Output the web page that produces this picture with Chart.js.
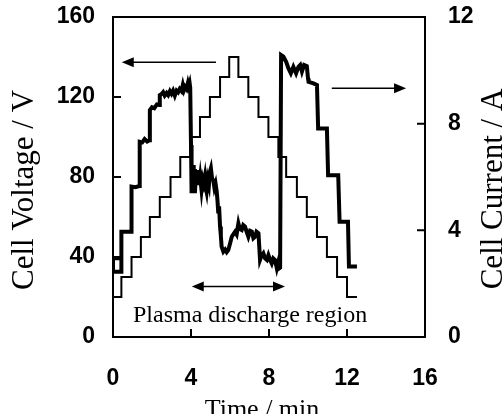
<!DOCTYPE html>
<html>
<head>
<meta charset="utf-8">
<script src="https://cdn.jsdelivr.net/npm/chart.js@4.4.1/dist/chart.umd.min.js"></script>
<style>
  html, body { margin: 0; padding: 0; background: #fff; }
  canvas { display: block; }
</style>
</head>
<body>
<canvas id="c" width="504" height="414"></canvas>
<script>
// Cell voltage: stepped ramp, each entry is the time a new level starts (min) and its level (V)
const voltageTimes  = [0, 0.43, 0.95, 1.43, 1.89, 2.40, 2.95, 3.45, 3.97, 4.46, 4.97, 5.49, 5.96,
                       6.43, 6.94, 7.46, 7.97, 8.48, 8.88, 9.43, 9.94, 10.46, 10.97, 11.49, 12.00, 12.51];
const voltageValues = [20, 30, 40, 50, 60, 70, 80, 90, 100, 110, 120, 130, 140,
                       130, 120, 110, 100, 90, 80, 70, 60, 50, 40, 30, 20, 20];

// Cell current: recorded trace (min, A)
const currentTimes = [0.43, 0.00, 0.00, 0.43, 0.43, 0.93, 0.95, 1.15, 1.35, 1.37, 1.50, 1.62, 1.75, 1.87,
  1.89, 2.00, 2.12, 2.25, 2.38, 2.40, 2.50, 2.57, 2.65, 2.75, 2.83, 2.92, 3.00, 3.08, 3.17, 3.26,
  3.34, 3.42, 3.51, 3.58, 3.64, 3.70, 3.77, 3.84, 3.88, 3.93, 3.96, 4.00, 4.03, 4.07, 4.11, 4.14,
  4.17, 4.20, 4.25, 4.30, 4.37, 4.42, 4.47, 4.54, 4.60, 4.65, 4.71, 4.76, 4.80, 4.86, 4.92, 4.97,
  5.02, 5.08, 5.14, 5.20, 5.26, 5.32, 5.36, 5.40, 5.44, 5.49, 5.53, 5.57, 5.66, 5.75, 5.83, 5.91,
  6.00, 6.09, 6.17, 6.26, 6.34, 6.43, 6.50, 6.60, 6.68, 6.77, 6.85, 6.94, 7.03, 7.12, 7.20, 7.29,
  7.36, 7.46, 7.50, 7.54, 7.62, 7.71, 7.80, 7.89, 7.97, 8.05, 8.14, 8.22, 8.31, 8.40, 8.48, 8.53,
  8.57, 8.62, 8.74, 8.88, 9.00, 9.12, 9.25, 9.39, 9.51, 9.60, 9.69, 9.80, 9.94, 10.00, 10.03, 10.28,
  10.46, 10.52, 10.97, 11.03, 11.55, 11.62, 12.05, 12.10, 12.51];
const currentValues = [2.95, 2.95, 2.45, 2.45, 3.95, 3.95, 5.64, 5.62, 5.66, 7.32, 7.30, 7.42, 7.33, 7.38,
  8.51, 8.62, 8.58, 8.72, 8.70, 9.07, 9.12, 9.18, 9.05, 9.15, 9.07, 9.22, 9.12, 9.24, 9.05, 9.24,
  9.18, 9.30, 9.22, 9.45, 9.26, 9.38, 9.30, 9.52, 9.40, 9.52, 9.35, 7.20, 5.39, 6.20, 6.45, 5.60,
  6.30, 5.39, 6.10, 5.70, 6.26, 5.70, 6.00, 5.51, 5.90, 5.75, 6.01, 5.60, 5.45, 5.90, 5.70, 6.20,
  6.33, 5.95, 5.89, 5.60, 5.75, 5.45, 5.10, 4.64, 4.90, 4.14, 3.80, 3.39, 3.20, 3.28, 3.18, 3.26,
  3.50, 3.76, 3.85, 3.95, 3.85, 4.26, 4.05, 4.01, 4.20, 4.14, 3.95, 3.76, 3.98, 3.95, 3.70, 3.76,
  3.95, 3.89, 3.40, 2.89, 3.05, 3.14, 2.95, 2.89, 3.07, 2.90, 2.76, 2.95, 2.89, 2.58, 2.82, 2.58,
  2.60, 10.57, 10.51, 10.32, 10.07, 9.89, 10.13, 9.89, 10.13, 10.20, 9.95, 10.20, 10.16, 9.70, 9.57, 9.51,
  9.45, 7.82, 7.82, 6.07, 6.07, 4.32, 4.32, 2.64, 2.64];

// Axis ticks
const timeTicks = [0, 4, 8, 12, 16];
const voltageTicks = [0, 40, 80, 120, 160];
const currentTicks = [0, 4, 8, 12];

// Text
const xTitle = 'Time / min';
const yTitle = 'Cell Voltage / V';
const y2Title = 'Cell Current / A';
const regionLabel = 'Plasma discharge region';

const voltagePoints = voltageTimes.map((t, i) => ({ x: t, y: voltageValues[i] }));
const currentPoints = currentTimes.map((t, i) => ({ x: t, y: currentValues[i] }));

const tickFont = { family: '"Liberation Sans", Arial, sans-serif', size: 23, weight: 'bold', lineHeight: 1 };
const serif = '"Liberation Serif", "Times New Roman", serif';

function setTicks(values) {
  return function (scale) { scale.ticks = values.map(v => ({ value: v })); };
}

// fixed scale sizes so the plot frame sits where it should
function fixSize(w, h) {
  return function (s) {
    if (w !== null) s.width = w;
    if (h !== null) s.height = h;
    s.paddingTop = 0; s.paddingBottom = 0; s.paddingLeft = 0; s.paddingRight = 0;
  };
}

function arrowHead(ctx, x, y, dir) {
  const len = 12, half = 5;
  ctx.beginPath();
  ctx.moveTo(x, y);
  ctx.lineTo(x - dir * len, y - half);
  ctx.lineTo(x - dir * len, y + half);
  ctx.closePath();
  ctx.fill();
}

function arrow(ctx, x1, x2, y, both) {
  // x2 is the pointed end
  const dir = x2 > x1 ? 1 : -1;
  ctx.beginPath();
  ctx.moveTo(both ? x1 + dir * 10 : x1, y);
  ctx.lineTo(x2 - dir * 10, y);
  ctx.stroke();
  arrowHead(ctx, x2, y, dir);
  if (both) arrowHead(ctx, x1, y, -dir);
}

const framePlugin = {
  id: 'frame',
  afterDatasetsDraw(chart) {
    const { ctx, chartArea: a, scales } = chart;
    const sx = scales.x, sy = scales.y, sy2 = scales.y2;
    ctx.save();
    ctx.strokeStyle = '#000';
    ctx.fillStyle = '#000';
    ctx.lineWidth = 2;
    ctx.strokeRect(a.left, a.top, a.right - a.left, a.bottom - a.top);

    // inward tick marks
    const len = 8;
    ctx.beginPath();
    voltageTicks.forEach(v => { const y = sy.getPixelForValue(v); ctx.moveTo(a.left, y); ctx.lineTo(a.left + len, y); });
    currentTicks.forEach(v => { const y = sy2.getPixelForValue(v); ctx.moveTo(a.right, y); ctx.lineTo(a.right - len, y); });
    timeTicks.forEach(v => { const x = sx.getPixelForValue(v); ctx.moveTo(x, a.bottom); ctx.lineTo(x, a.bottom - len); });
    ctx.stroke();

    // arrows pointing each trace to its axis, and the discharge span
    ctx.lineWidth = 1.5;
    arrow(ctx, sx.getPixelForValue(5.28), sx.getPixelForValue(0.45), sy.getPixelForValue(137.4), false);
    arrow(ctx, sx.getPixelForValue(11.22), sx.getPixelForValue(15.03), sy2.getPixelForValue(9.33), false);
    arrow(ctx, sx.getPixelForValue(4.04), sx.getPixelForValue(8.82), sy.getPixelForValue(25.2), true);

    ctx.font = '24px ' + serif;
    ctx.textAlign = 'center';
    ctx.textBaseline = 'alphabetic';
    ctx.fillText(regionLabel, sx.getPixelForValue(7.03), sy.getPixelForValue(7.5));

    // axis titles
    ctx.font = '26px ' + serif;
    ctx.fillText(xTitle, 262, 417);

    ctx.font = '31px ' + serif;
    ctx.save();
    ctx.translate(33, 190);
    ctx.rotate(-Math.PI / 2);
    ctx.fillText(yTitle, 0, 0);
    ctx.restore();

    ctx.save();
    ctx.translate(502, 189);
    ctx.rotate(-Math.PI / 2);
    ctx.fillText(y2Title, 0, 0);
    ctx.restore();

    ctx.restore();
  }
};

new Chart(document.getElementById('c'), {
  type: 'line',
  data: {
    datasets: [
      {
        label: 'Cell Voltage',
        data: voltagePoints,
        yAxisID: 'y',
        stepped: true,
        borderColor: '#000',
        borderWidth: 2,
        pointRadius: 0,
        fill: false,
        borderJoinStyle: 'miter'
      },
      {
        label: 'Cell Current',
        data: currentPoints,
        yAxisID: 'y2',
        borderColor: '#000',
        borderWidth: 4,
        pointRadius: 0,
        fill: false,
        tension: 0,
        borderJoinStyle: 'miter'
      }
    ]
  },
  options: {
    responsive: false,
    animation: false,
    devicePixelRatio: 1,
    parsing: false,
    layout: { padding: { top: 17, left: 0, right: 0, bottom: 0 } },
    plugins: { legend: { display: false }, tooltip: { enabled: false } },
    scales: {
      x: {
        type: 'linear', position: 'bottom', min: 0, max: 16,
        grid: { display: false }, border: { display: false },
        ticks: { font: tickFont, color: '#000', padding: 22, maxRotation: 0, autoSkip: false },
        afterBuildTicks: setTicks(timeTicks),
        afterFit: fixSize(null, 77)
      },
      y: {
        type: 'linear', position: 'left', min: 0, max: 160,
        grid: { display: false }, border: { display: false },
        ticks: { font: tickFont, color: '#000', padding: 10, autoSkip: false },
        afterBuildTicks: setTicks(voltageTicks),
        afterFit: fixSize(113, null)
      },
      y2: {
        type: 'linear', position: 'right', min: 0, max: 12,
        grid: { display: false }, border: { display: false },
        ticks: { font: tickFont, color: '#000', padding: 15, autoSkip: false },
        afterBuildTicks: setTicks(currentTicks),
        afterFit: fixSize(79, null)
      }
    }
  },
  plugins: [framePlugin]
});
</script>
</body>
</html>
